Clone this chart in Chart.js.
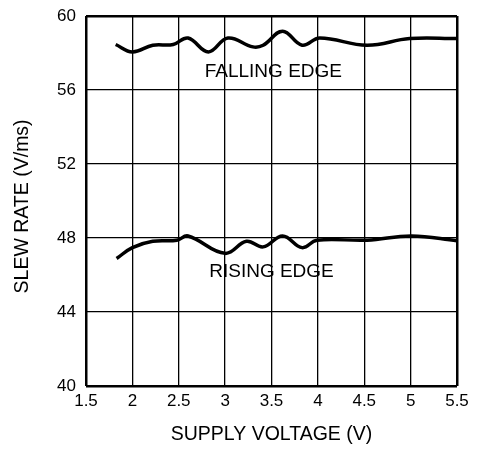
<!DOCTYPE html>
<html>
<head>
<meta charset="utf-8">
<script src="https://cdn.jsdelivr.net/npm/chart.js@4/dist/chart.umd.min.js"></script>
<style>
  html, body { margin: 0; padding: 0; background: #fff; }
  #wrap { width: 484px; height: 449px; }
</style>
</head>
<body>
<div id="wrap"><canvas id="slewChart" width="484" height="449"></canvas></div>
<script>
// supply voltage (V) vs slew rate (V/ms)
const fallingV    = [1.82, 2.0, 2.22, 2.44, 2.6, 2.82, 3.03, 3.3, 3.41, 3.62, 3.83, 4.02, 4.53, 4.99, 5.5];
const fallingRate = [58.46, 58.06, 58.42, 58.46, 58.81, 58.06, 58.81, 58.33, 58.42, 59.18, 58.42, 58.81, 58.42, 58.78, 58.78];

const risingV    = [1.83, 2.0, 2.22, 2.48, 2.6, 3.0, 3.23, 3.41, 3.62, 3.83, 3.99, 4.53, 5.01, 5.5];
const risingRate = [46.89, 47.48, 47.82, 47.88, 48.11, 47.17, 47.82, 47.52, 48.11, 47.48, 47.88, 47.88, 48.11, 47.85];

const xTicks = [1.5, 2, 2.5, 3, 3.5, 4, 4.5, 5, 5.5];
const yTicks = [40, 44, 48, 52, 56, 60];

// curve labels placed in data coordinates
const curveLabels = [
    { text: 'FALLING EDGE', x: 3.52, y: 56.97 },
    { text: 'RISING EDGE', x: 3.5, y: 46.17 }
];

const FONT = 'Liberation Sans, Arial, sans-serif';

function toPoints(xs, ys) {
    return xs.map((x, i) => ({ x: x, y: ys[i] }));
}

const labelPlugin = {
    id: 'curveLabels',
    afterDatasetsDraw(chart) {
        const { ctx, scales } = chart;
        ctx.save();
        ctx.fillStyle = '#000';
        ctx.font = '19px ' + FONT;
        ctx.textAlign = 'center';
        ctx.textBaseline = 'middle';
        curveLabels.forEach(l => {
            ctx.fillText(l.text, scales.x.getPixelForValue(l.x), scales.y.getPixelForValue(l.y));
        });
        ctx.restore();
    }
};

const edgeWidth = (ctx, lo, hi) => (ctx.tick && (ctx.tick.value === lo || ctx.tick.value === hi)) ? 2.5 : 1.3;

new Chart(document.getElementById('slewChart'), {
    type: 'scatter',
    data: {
        datasets: [
            {
                label: 'Falling edge',
                data: toPoints(fallingV, fallingRate),
                showLine: true,
                borderColor: '#000',
                borderWidth: 3.5,
                pointRadius: 0,
                tension: 0.4
            },
            {
                label: 'Rising edge',
                data: toPoints(risingV, risingRate),
                showLine: true,
                borderColor: '#000',
                borderWidth: 3.5,
                pointRadius: 0,
                tension: 0.4
            }
        ]
    },
    options: {
        responsive: false,
        animation: false,
        layout: { padding: { top: 16, right: 27, left: 0, bottom: 0 } },
        plugins: {
            legend: { display: false },
            tooltip: { enabled: false }
        },
        scales: {
            x: {
                type: 'linear',
                min: 1.5,
                max: 5.5,
                afterBuildTicks: s => { s.ticks = xTicks.map(v => ({ value: v })); },
                afterFit: s => { s.height = 63; s.paddingLeft = 0; s.paddingRight = 0; },
                border: { display: false },
                grid: {
                    color: '#000',
                    lineWidth: c => edgeWidth(c, 1.5, 5.5),
                    drawTicks: false
                },
                ticks: {
                    color: '#000',
                    font: { family: FONT, size: 17 },
                    padding: 5,
                    maxRotation: 0,
                    callback: v => String(v)
                },
                title: {
                    display: true,
                    text: 'SUPPLY VOLTAGE (V)',
                    color: '#000',
                    font: { family: FONT, size: 19.5 },
                    padding: { top: 0, bottom: 3 }
                }
            },
            y: {
                type: 'linear',
                min: 40,
                max: 60,
                afterBuildTicks: s => { s.ticks = yTicks.map(v => ({ value: v })); },
                afterFit: s => { s.width = 86; s.paddingTop = 0; s.paddingBottom = 0; },
                border: { display: false },
                grid: {
                    color: '#000',
                    lineWidth: c => edgeWidth(c, 40, 60),
                    drawTicks: false
                },
                ticks: {
                    color: '#000',
                    font: { family: FONT, size: 17 },
                    padding: 10
                },
                title: {
                    display: true,
                    // trailing spaces nudge the rotated title down a little
                    text: 'SLEW RATE (V/ms)  ',
                    color: '#000',
                    font: { family: FONT, size: 19.5 },
                    padding: { top: 11, bottom: 0 }
                }
            }
        }
    },
    plugins: [labelPlugin]
});
</script>
</body>
</html>
